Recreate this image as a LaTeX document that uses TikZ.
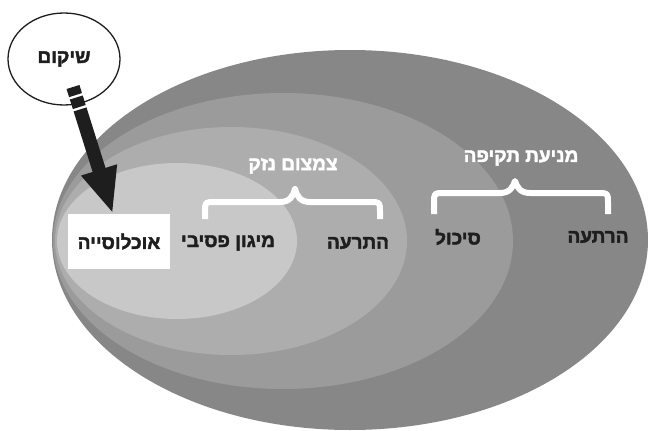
\documentclass[tikz,border=0pt]{standalone}
\usepackage{fontspec}
\usetikzlibrary{shapes.geometric,arrows.meta,calc}
\TeXXeTstate=1
\newfontfamily\heb[Script=Hebrew, FakeBold=2.2]{Liberation Sans}
\definecolor{gA}{HTML}{878787}
\definecolor{gB}{HTML}{9B9B9B}
\definecolor{gC}{HTML}{ADADAD}
\definecolor{gD}{HTML}{C8C8C8}
\definecolor{ink}{HTML}{1E1E1E}
\begin{document}
\begin{tikzpicture}[x=1pt,y=-1pt,
  lbl/.style={font=\heb\bfseries\fontsize{19}{21}\selectfont, text=ink, inner sep=0pt},
  wlbl/.style={lbl, text=white},
  bracepath/.style={draw=white, line width=6pt, line cap=butt, line join=round},
  shaft/.style={draw=ink, line width=13.5pt, line cap=butt}]
\useasboundingbox (0,0) rectangle (648,431);
% nested ellipses
\fill[gA] (350,240) ellipse [x radius=298pt, y radius=190pt];
\fill[gB] (283,241) ellipse [x radius=230pt, y radius=148pt];
\fill[gC] (231,241) ellipse [x radius=176pt, y radius=114pt];
\fill[gD] (177,241) ellipse [x radius=120pt, y radius=78pt];
% braces
\draw[bracepath] (205,219) -- (205,212) .. controls (205,202) .. (215,202)
  -- (280,202) .. controls (290,202) and (293,196) .. (295,189)
  .. controls (297,196) and (300,202) .. (310,202) -- (370,202)
  .. controls (380,202) .. (380,212) -- (380,219);
\draw[bracepath] (434,214) -- (434,203) .. controls (434,193) .. (444,193)
  -- (500,193) .. controls (510,193) and (513,187) .. (515,181)
  .. controls (517,187) and (520,193) .. (530,193) -- (598,193)
  .. controls (608,193) .. (608,203) -- (608,214);
% labels
\node[wlbl] (tz) at (293,166) {\beginR צמצום נזק\endR};
\node[wlbl] (mt) at (521,158) {\beginR מניעת תקיפה\endR};
\node[lbl] (hat) at (358,243) {\beginR התרעה\endR};
\node[lbl] (mig) at (228,243) {\beginR מיגון פסיבי\endR};
\node[lbl] (sik) at (458,237) {\beginR סיכול\endR};
\node[lbl] (hart) at (598,237) {\beginR הרתעה\endR};
\node[lbl, fill=white, minimum width=102pt, minimum height=55pt] (pop) at (119,241.5) {\beginR אוכלוסייה\endR};
% rehabilitation
\node[lbl, draw=ink, line width=1.3pt, ellipse, minimum width=112pt, minimum height=92pt] (src) at (64,59) {\beginR שיקום\endR};
\coordinate (as) at (73,87);
\coordinate (ae) at ($(pop.north west)!0.44!(pop.north east)$);
\draw[shaft] (as) -- ($(as)!8.5pt!(ae)$);
\draw[shaft] ($(as)!11pt!(ae)$) -- ($(as)!21pt!(ae)$);
\draw[shaft, -{Triangle[length=46pt,width=34pt]}] ($(as)!23.5pt!(ae)$) -- (ae);
\end{tikzpicture}
\end{document}
